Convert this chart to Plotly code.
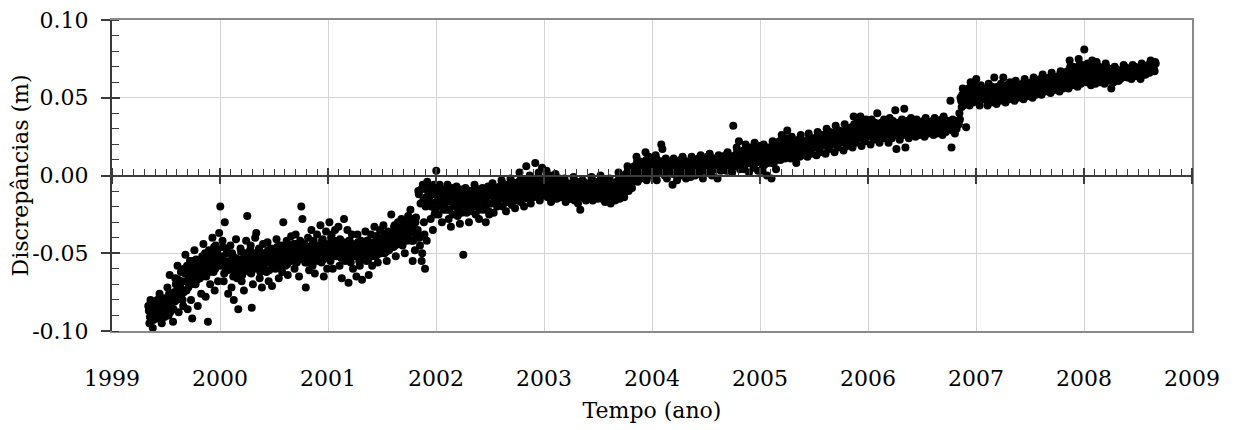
import plotly.graph_objects as go

# Discrepancies in millimetres, 16 readings per month
START_YEAR = 1999
START_MONTH = 5  # May 1999

d1999 = [
    [-84, -95, -80, -90, -98, -86, -82, -92, -87, -91, -83, -89, -93, -85, -88, -90],
    [-80, -92, -76, -88, -95, -84, -79, -90, -84, -88, -82, -90, -86, -83, -91, -87],
    [-82, -72, -90, -64, -86, -78, -94, -75, -80, -85, -76, -88, -83, -79, -86, -81],
    [-66, -80, -58, -88, -71, -62, -76, -84, -70, -74, -67, -78, -72, -68, -80, -75],
    [-60, -51, -74, -86, -66, -55, -80, -92, -63, -68, -58, -72, -65, -61, -70, -66],
    [-55, -48, -70, -62, -84, -58, -66, -76, -59, -63, -54, -67, -61, -57, -65, -60],
    [-52, -44, -64, -78, -58, -94, -48, -70, -55, -60, -50, -65, -57, -53, -62, -58],
    [-50, -40, -62, -74, -45, -57, -68, -37, -50, -55, -46, -60, -52, -48, -58, -53],
]
d2000 = [
    [-20, -55, -42, -68, -30, -60, -48, -76, -52, -58, -46, -63, -55, -50, -61, -57],
    [-58, -45, -72, -52, -80, -63, -41, -66, -55, -60, -50, -65, -57, -53, -62, -58],
    [-86, -55, -47, -68, -60, -74, -50, -42, -54, -59, -49, -64, -56, -52, -61, -57],
    [-26, -52, -62, -45, -85, -70, -56, -40, -53, -58, -48, -63, -55, -50, -60, -56],
    [-37, -58, -48, -66, -53, -72, -44, -60, -52, -57, -47, -62, -54, -50, -59, -55],
    [-50, -62, -43, -68, -55, -47, -71, -58, -52, -56, -48, -61, -54, -50, -59, -53],
    [-48, -60, -41, -55, -66, -52, -45, -62, -50, -54, -46, -58, -52, -48, -56, -51],
    [-30, -50, -58, -42, -64, -47, -55, -39, -49, -53, -45, -57, -51, -47, -55, -50],
    [-52, -44, -60, -38, -56, -48, -65, -42, -48, -52, -44, -56, -50, -46, -54, -49],
    [-20, -28, -50, -44, -72, -56, -40, -61, -48, -52, -45, -56, -50, -46, -54, -49],
    [-46, -35, -58, -42, -63, -51, -38, -55, -47, -51, -43, -55, -49, -45, -53, -48],
    [-48, -32, -56, -41, -65, -52, -36, -60, -46, -50, -42, -54, -48, -44, -52, -47],
]
d2001 = [
    [-45, -30, -55, -38, -60, -48, -35, -52, -44, -48, -40, -52, -46, -42, -50, -45],
    [-50, -33, -58, -42, -66, -47, -28, -55, -45, -49, -41, -53, -47, -43, -51, -46],
    [-48, -35, -69, -42, -56, -38, -60, -50, -46, -50, -42, -54, -48, -44, -52, -47],
    [-45, -65, -38, -52, -58, -42, -67, -50, -47, -51, -43, -55, -49, -45, -53, -48],
    [-48, -36, -55, -42, -64, -50, -38, -58, -46, -50, -42, -54, -48, -44, -52, -47],
    [-44, -33, -52, -39, -56, -47, -35, -50, -43, -47, -39, -51, -45, -41, -49, -44],
    [-40, -32, -50, -45, -55, -36, -48, -42, -42, -45, -38, -49, -44, -40, -47, -43],
    [-25, -38, -46, -32, -52, -40, -30, -44, -37, -41, -33, -45, -39, -35, -43, -38],
    [-35, -28, -45, -38, -50, -31, -42, -26, -34, -38, -30, -42, -36, -32, -40, -35],
    [-30, -22, -42, -55, -35, -48, -27, -38, -32, -37, -28, -42, -34, -30, -40, -35],
    [-10, -40, -18, -55, -6, -30, -60, -14, -12, -45, -9, -50, -16, -38, -20, -42],
    [-4, -18, -8, -28, -12, -35, -6, -22, -10, -15, -7, -20, -12, -9, -25, -17],
]
d2002 = [
    [3, -12, -25, -6, -18, -30, -9, -15, -12, -16, -8, -20, -14, -10, -22, -18],
    [-10, -22, -6, -28, -14, -33, -8, -18, -13, -17, -10, -22, -15, -11, -25, -19],
    [-12, -20, -7, -26, -15, -31, -9, -18, -13, -17, -10, -22, -15, -12, -24, -19],
    [-51, -14, -8, -24, -18, -30, -10, -20, -12, -16, -9, -21, -14, -11, -23, -18],
    [-12, -20, -6, -25, -16, -9, -28, -14, -11, -15, -8, -20, -13, -10, -22, -17],
    [-15, -8, -22, -12, -30, -18, -7, -25, -12, -16, -10, -20, -14, -11, -23, -18],
    [-10, -18, -5, -24, -13, -8, -20, -15, -9, -13, -7, -17, -11, -8, -19, -14],
    [-8, -15, -3, -20, -11, -6, -23, -13, -7, -11, -5, -15, -9, -6, -17, -12],
    [-7, -14, -2, -19, -10, -5, -21, -12, -6, -10, -4, -14, -8, -5, -16, -11],
    [-5, -12, 2, -17, -8, -3, -20, -10, -5, -9, -3, -13, -7, -4, -15, -10],
    [6, -6, -14, 0, -18, -9, -3, -11, -5, -8, -2, -12, -7, -4, -14, -9],
    [8, -4, -12, 2, -16, -8, 5, -10, -4, -7, -1, -11, -6, -3, -13, -8],
]
d2003 = [
    [-2, -9, 3, -14, -6, 0, -17, -10, -4, -7, -1, -11, -5, -3, -13, -8],
    [-5, -11, 1, -15, -8, -2, -13, -6, -5, -8, -2, -12, -6, -4, -14, -9],
    [-8, -14, -2, -17, -10, -5, -12, -15, -7, -10, -4, -13, -8, -6, -15, -11],
    [-6, -12, -1, -16, -9, -4, -18, -11, -6, -9, -3, -13, -7, -5, -15, -10],
    [-22, -8, -3, -14, -10, -16, -5, -12, -7, -10, -4, -13, -8, -6, -14, -11],
    [-7, -13, -1, -16, -9, -4, -11, -15, -6, -9, -3, -13, -8, -5, -14, -10],
    [-6, -12, 0, -15, -9, -3, -17, -10, -5, -9, -2, -12, -7, -4, -14, -10],
    [-8, -14, -2, -18, -10, -5, -12, -16, -7, -10, -4, -14, -8, -6, -15, -11],
    [-5, -12, 2, -15, -8, -2, -10, -14, -4, -7, -1, -11, -6, -3, -12, -9],
    [0, -6, 6, -10, -3, 3, -8, -1, 1, -2, 4, -6, -1, 2, -4, 0],
    [6, 0, 12, -4, 4, 9, -2, 8, 5, 2, 9, 0, 4, 7, 1, 6],
    [8, 2, 15, -3, 5, 12, 0, 7, 6, 3, 10, 1, 5, 9, 2, 7],
]
d2004 = [
    [5, 10, 0, 13, -3, 7, 3, 9, 5, 8, 2, 11, 4, 7, 3, 9],
    [20, 17, 6, 0, 11, -2, 4, 8, 5, 8, 2, 10, 4, 7, 3, 9],
    [4, 9, -6, 11, 2, 7, -3, 5, 4, 7, 1, 9, 3, 6, 2, 8],
    [5, 10, 0, 12, 3, 8, -2, 6, 5, 8, 2, 10, 4, 7, 3, 9],
    [3, 9, -1, 12, 5, 7, 0, 10, 5, 8, 2, 10, 4, 7, 3, 9],
    [5, 11, 1, 13, 7, -2, 9, 3, 6, 9, 3, 11, 5, 8, 4, 10],
    [6, 12, 2, 14, 8, 0, 10, 4, 7, 10, 4, 12, 6, 9, 5, 11],
    [5, 11, -2, 13, 8, 3, 10, 6, 6, 9, 4, 11, 5, 8, 7, 10],
    [7, 13, 3, 15, 9, 5, 11, 2, 8, 11, 5, 13, 7, 10, 6, 12],
    [32, 12, 6, 18, 9, 22, 4, 15, 10, 13, 7, 16, 9, 12, 8, 14],
    [10, 16, 4, 20, 8, 13, 2, 18, 10, 13, 7, 16, 9, 12, 8, 15],
    [11, 17, 5, 21, 8, 14, 3, 19, 11, 14, 8, 17, 10, 13, 9, 16],
]
d2005 = [
    [10, 16, 3, 20, 7, 13, 0, 18, 10, 13, 6, 16, 9, 12, 8, 14],
    [12, 18, -2, 22, 8, 15, 4, 19, 12, 15, 8, 18, 11, 14, 10, 16],
    [15, 22, 10, 26, 13, 19, 11, 24, 17, 20, 14, 23, 16, 19, 15, 21],
    [29, 16, 22, 11, 25, 14, 19, 12, 18, 21, 15, 23, 17, 20, 16, 22],
    [8, 17, 23, 12, 26, 15, 20, 13, 18, 21, 15, 24, 17, 20, 16, 22],
    [16, 22, 12, 27, 18, 14, 24, 20, 19, 22, 17, 25, 20, 21, 18, 23],
    [18, 24, 13, 28, 20, 15, 26, 22, 21, 24, 18, 26, 20, 23, 19, 25],
    [20, 26, 14, 30, 22, 17, 28, 24, 22, 25, 19, 27, 21, 24, 20, 26],
    [21, 27, 15, 32, 23, 18, 29, 25, 23, 26, 20, 28, 22, 25, 21, 27],
    [22, 28, 16, 33, 24, 19, 30, 26, 24, 27, 21, 29, 23, 26, 22, 28],
    [24, 31, 18, 38, 27, 21, 34, 29, 26, 30, 23, 33, 25, 28, 24, 31],
    [25, 38, 19, 33, 28, 22, 36, 30, 27, 31, 24, 34, 26, 29, 25, 32],
]
d2006 = [
    [26, 32, 20, 36, 29, 23, 34, 28, 28, 31, 25, 33, 27, 30, 26, 32],
    [40, 27, 21, 33, 30, 24, 36, 28, 28, 31, 25, 34, 27, 30, 26, 32],
    [27, 33, 21, 37, 30, 24, 35, 29, 29, 32, 26, 34, 28, 31, 27, 33],
    [42, 17, 28, 34, 23, 31, 36, 26, 29, 32, 26, 34, 28, 31, 27, 33],
    [43, 18, 29, 35, 24, 32, 37, 27, 30, 33, 27, 35, 29, 32, 28, 34],
    [28, 34, 25, 36, 30, 26, 33, 31, 30, 32, 27, 34, 29, 31, 28, 33],
    [29, 35, 25, 37, 31, 27, 34, 32, 31, 33, 28, 35, 30, 32, 29, 34],
    [29, 35, 26, 37, 31, 27, 34, 32, 31, 33, 28, 35, 30, 32, 29, 34],
    [30, 36, 26, 38, 32, 28, 35, 33, 32, 34, 29, 36, 31, 33, 30, 35],
    [30, 48, 18, 36, 32, 27, 35, 33, 32, 34, 29, 35, 31, 33, 30, 34],
    [34, 40, 50, 44, 56, 47, 53, 31, 33, 36, 48, 52, 45, 50, 55, 46],
    [50, 56, 45, 60, 52, 47, 58, 54, 52, 54, 48, 57, 51, 53, 49, 55],
]
d2007 = [
    [62, 48, 55, 45, 58, 51, 53, 49, 51, 54, 48, 56, 50, 53, 49, 55],
    [50, 56, 45, 59, 52, 47, 57, 54, 52, 54, 49, 56, 51, 53, 50, 55],
    [63, 51, 46, 57, 53, 48, 59, 55, 52, 55, 49, 57, 51, 54, 50, 56],
    [63, 52, 47, 58, 54, 49, 60, 56, 53, 56, 50, 58, 52, 55, 51, 57],
    [53, 58, 48, 61, 55, 50, 57, 52, 54, 57, 51, 59, 53, 56, 52, 58],
    [54, 59, 49, 62, 56, 51, 58, 53, 55, 58, 52, 60, 54, 57, 53, 59],
    [55, 60, 50, 63, 57, 52, 59, 54, 56, 59, 53, 61, 55, 58, 54, 60],
    [56, 62, 52, 65, 58, 54, 61, 57, 58, 61, 55, 63, 57, 60, 56, 62],
    [57, 63, 53, 66, 59, 55, 62, 58, 59, 62, 56, 64, 58, 61, 57, 63],
    [58, 64, 54, 67, 60, 56, 63, 59, 60, 63, 57, 65, 59, 62, 58, 64],
    [60, 67, 56, 74, 62, 58, 70, 64, 63, 66, 59, 70, 62, 65, 61, 68],
    [61, 68, 57, 75, 63, 59, 71, 65, 64, 67, 60, 71, 63, 66, 62, 69],
]
d2008 = [
    [81, 66, 60, 72, 63, 69, 58, 74, 65, 68, 62, 71, 64, 67, 63, 70],
    [62, 68, 59, 73, 65, 70, 60, 66, 65, 68, 62, 70, 64, 67, 63, 69],
    [61, 67, 59, 72, 64, 69, 62, 66, 64, 67, 62, 70, 63, 66, 61, 68],
    [56, 65, 60, 70, 63, 68, 61, 66, 64, 66, 62, 69, 63, 65, 61, 67],
    [62, 67, 63, 71, 64, 69, 65, 66, 66, 68, 64, 70, 65, 67, 63, 69],
    [63, 68, 62, 71, 65, 70, 64, 67, 66, 68, 64, 70, 65, 67, 64, 69],
    [64, 69, 62, 72, 66, 70, 65, 68, 67, 69, 64, 71, 66, 68, 65, 70],
    [67, 71, 66, 74, 69, 72, 68, 73, 69, 71, 67, 73, 68, 70, 67, 72],
]

x_ticks = list(range(1999, 2010))
y_ticks = [-0.10, -0.05, 0.00, 0.05, 0.10]
y_labels = ["-0.10", "-0.05", "0.00", "0.05", "0.10"]

months = d1999 + d2000 + d2001 + d2002 + d2003 + d2004 + d2005 + d2006 + d2007 + d2008
xs, ys = [], []
for k, vals in enumerate(months):
    m0 = START_YEAR + (START_MONTH - 1) / 12 + k / 12
    n = len(vals)
    half = n // 2
    for i, v in enumerate(vals):
        slot = (i % half) * 2 + i // half   # interleave the two halves of readings
        xs.append(m0 + (slot + 0.5) / (n * 12))
        ys.append(v / 1000)

FONT = "DejaVu Serif"
DARK = "#3a3a3a"
GRAY = "#8a8a8a"
GRID = "#d3d3d3"
FS = 22

fig = go.Figure()
fig.add_trace(go.Scatter(x=xs, y=ys, mode="markers",
                         marker=dict(color="black", size=8, line=dict(width=0)),
                         showlegend=False, hoverinfo="skip"))
# empty traces so the helper axes (zero axis, cross ticks, right frame) get drawn
for xa, ya in [("x2", "y"), ("x3", "y"), ("x", "y2"), ("x", "y3")]:
    fig.add_trace(go.Scatter(x=[], y=[], xaxis=xa, yaxis=ya, mode="markers",
                             showlegend=False, hoverinfo="skip"))

fig.update_layout(
    width=1226, height=422,
    margin=dict(l=104, r=42, t=12, b=99, autoexpand=False),
    paper_bgcolor="white", plot_bgcolor="white",
    font=dict(family=FONT, size=FS, color="black"),
    xaxis=dict(range=[1999, 2009], tickvals=x_ticks, ticktext=[str(v) for v in x_ticks],
               showgrid=True, gridcolor=GRID, gridwidth=1, zeroline=False, automargin=False,
               showline=True, linecolor=GRAY, linewidth=2, mirror=True,
               ticks="", ticklabelstandoff=27, ticklabeloverflow="allow",
               title=dict(text="Tempo (ano)", standoff=12, font=dict(size=FS))),
    xaxis2=dict(range=[1999, 2009], overlaying="x", anchor="free", position=0.5,
                side="bottom", showgrid=False, zeroline=False, showticklabels=False, automargin=False,
                showline=True, linecolor=DARK, linewidth=1.5,
                tickvals=x_ticks, ticks="outside", ticklen=8, tickwidth=1.5, tickcolor=DARK,
                minor=dict(ticks="inside", ticklen=6, dtick=0.1, tickwidth=1, tickcolor=DARK, showgrid=False)),
    xaxis3=dict(range=[1999, 2009], overlaying="x", anchor="free", position=0.5,
                side="top", showgrid=False, zeroline=False, showticklabels=False, automargin=False,
                showline=False, tickvals=x_ticks, ticks="outside", ticklen=8,
                tickwidth=1.5, tickcolor=DARK),
    yaxis=dict(range=[-0.1, 0.1], tickvals=y_ticks, ticktext=y_labels,
               showgrid=True, gridcolor=GRID, gridwidth=1, zeroline=False, automargin=False,
               showline=True, linecolor=DARK, linewidth=2, ticklabeloverflow="allow",
               ticks="outside", ticklen=9, tickwidth=1.5, tickcolor=DARK, ticklabelstandoff=8,
               minor=dict(ticks="inside", ticklen=7, dtick=0.01, tickwidth=1, tickcolor=DARK, showgrid=False),
               title=dict(text="Discrepâncias (m)", standoff=0, font=dict(size=FS))),
    yaxis2=dict(range=[-0.1, 0.1], overlaying="y", anchor="x", side="left", automargin=False,
                showgrid=False, zeroline=False, showticklabels=False, showline=False,
                tickvals=y_ticks, ticks="inside", ticklen=8, tickwidth=1.5, tickcolor=DARK),
    yaxis3=dict(range=[-0.1, 0.1], overlaying="y", anchor="x", side="right", automargin=False,
                showgrid=False, zeroline=False, showticklabels=False,
                showline=True, linecolor=GRAY, linewidth=2, ticks=""),
)

fig.write_html("out.html")
